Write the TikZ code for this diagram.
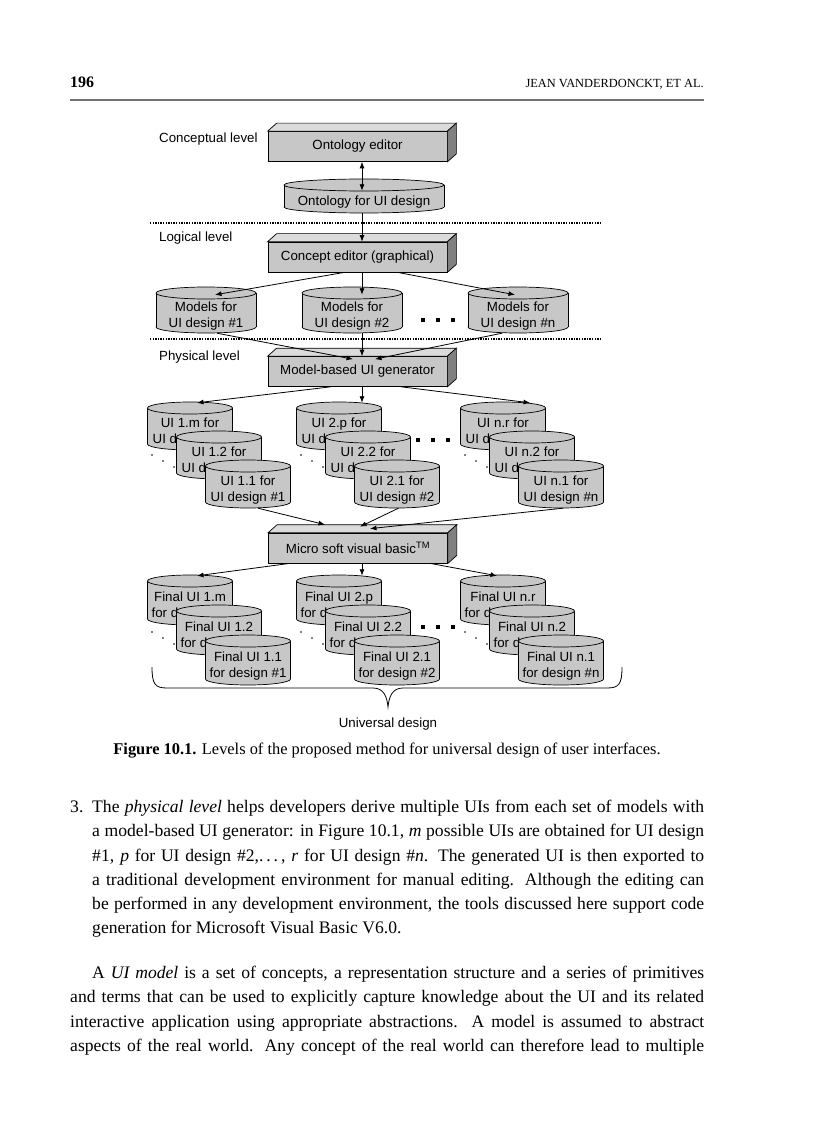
\documentclass[tikz,border=0pt]{standalone}
\usepackage{fontspec}
\setmainfont{Liberation Serif}
\newfontfamily\diafont{Liberation Sans}
\usetikzlibrary{arrows.meta, positioning}

% a drum (data store): name, centre x, centre y, width, height, text
\newcommand{\drum}[6]{%
  \filldraw[drumline] (#2,#3+#5/2-6) ellipse [x radius=#4/2, y radius=6];
  \fill[black!22] (#2-#4/2,#3-#5/2+6) rectangle (#2+#4/2,#3+#5/2-6);
  \draw[drumline] (#2-#4/2,#3-#5/2+6) -- (#2-#4/2,#3+#5/2-6) (#2+#4/2,#3-#5/2+6) -- (#2+#4/2,#3+#5/2-6);
  \filldraw[drumline] (#2,#3-#5/2+6) ellipse [x radius=#4/2, y radius=6];
  \node[drumtext, minimum width=#4, minimum height=#5-12] (#1) at (#2,#3+6) {#6};
}

\begin{document}
\begin{tikzpicture}[x=1pt, y=-1pt,
    slab/.style={rectangle, draw, line width=0.7pt, fill=black!22, minimum width=179pt, minimum height=30pt, inner sep=0pt, font=\diafont\fontsize{13.3}{16}\selectfont},
    drumline/.style={fill=black!22, line width=0.7pt},
    drumtext/.style={inner sep=0pt, align=center, font=\diafont\fontsize{13.3}{16}\selectfont},
    lvl/.style={anchor=base west, inner sep=0pt, font=\diafont\fontsize{13.3}{16}\selectfont},
    flow/.style={-{Latex[length=6.5pt,width=5pt]}, line width=0.8pt},
    sep/.style={dash pattern=on 1.3pt off 1.3pt, line width=1.1pt},
    body/.style={anchor=north west, inner sep=0pt, text width=634pt, align=justify, font=\fontsize{17.6}{24.2}\selectfont}
  ]
  \fill[white] (0,0) rectangle (816,1123);
  \useasboundingbox (0,0) rectangle (816,1123);

  % running head
  \node[anchor=base west, inner sep=0pt, font=\bfseries\fontsize{16}{18}\selectfont] (pgno) at (70,88) {196};
  \node[anchor=base east, inner sep=0pt, font=\fontsize{12.4}{14}\selectfont] (rhead) at (704,88) {JEAN VANDERDONCKT, ET AL.};
  \draw[black!55, line width=1.5pt] (70,100) -- (704,100);

  % level names and separators
  \node[lvl] (lvconc) at (159,142.5) {Conceptual level};
  \node[lvl] (lvlog)  at (159,241.5) {Logical level};
  \node[lvl] (lvphys) at (159,360.5) {Physical level};
  \draw[sep] (150,223) -- (601,223);
  \draw[sep] (150,339) -- (601,339);

  % conceptual and logical level
  \node[slab] (onted) at (357.5,146.5) {Ontology editor};
  \drum{ontdb}{364}{196}{160}{34}{Ontology for UI design}
  \node[slab] (conced) at (357.5,257) {Concept editor (graphical)};
  \foreach \i/\x/\d in {1/206/1, 2/352/2, 3/518/n}{
    \drum{mod\i}{\x}{310}{100}{46}{Models for\\UI design \#\d}
  }
  \foreach \k in {0,1,2}
    \fill (421+15*\k,318) rectangle (425+15*\k,322);

  % physical level
  \node[slab] (gener) at (357.5,371.5) {Model-based UI generator};
  \foreach \i/\x/\nm/\lt in {1/190/1/m, 2/339/2/p, 3/503/n/r}{
    \drum{uic\i}{\x}{426}{85}{48}{UI \nm.\lt\ for\\UI design \#\nm}
    \drum{uib\i}{\x+29}{455}{85}{48}{UI \nm.2 for\\UI design \#\nm}
    \drum{uia\i}{\x+58}{484}{85}{48}{UI \nm.1 for\\UI design \#\nm}
    \foreach \k in {0,1,2}
      \fill (\x-38+11*\k,455+6*\k) circle (0.9pt);
  }
  \foreach \k in {0,1,2}
    \fill (416+15*\k,438) rectangle (420+15*\k,442);

  \node[slab] (msvb) at (358,548) {Micro soft visual basic\textsuperscript{TM}};
  \foreach \i/\x/\nm/\lt in {1/190/1/m, 2/339/2/p, 3/503/n/r}{
    \drum{fic\i}{\x}{600}{85}{50}{Final UI \nm.\lt\\for design \#\nm}
    \drum{fib\i}{\x+29}{630}{85}{50}{Final UI \nm.2\\for design \#\nm}
    \drum{fia\i}{\x+58}{660}{85}{50}{Final UI \nm.1\\for design \#\nm}
    \foreach \k in {0,1,2}
      \fill (\x-38+11*\k,632+6*\k) circle (0.9pt);
  }
  \foreach \k in {0,1,2}
    \fill (421+15*\k,625) rectangle (425+15*\k,629);

  % top and side of the boxes
  \foreach \b in {onted, conced, gener, msvb}{
    \filldraw[fill=black!14, line width=0.7pt] (\b.north west) -- ++(9pt,8pt) -- ([shift={(9pt,8pt)}]\b.north east) -- (\b.north east) -- cycle;
    \filldraw[fill=black!50, line width=0.7pt] (\b.north east) -- ++(9pt,8pt) -- ([shift={(9pt,8pt)}]\b.south east) -- (\b.south east) -- cycle;
  }

  % brace
  \draw[line width=0.8pt] (152,667) .. controls (152,684) and (155,688) .. (167,688) -- (373,688)
    .. controls (384,688) and (387,697) .. (388,707) .. controls (389,697) and (392,688) .. (403,688)
    -- (607,688) .. controls (619,688) and (622,684) .. (622,667);
  \node[anchor=base, inner sep=0pt, font=\diafont\fontsize{13.3}{16}\selectfont] (univ) at (388,727) {Universal design};

  % connectors
  \draw[{Latex[length=6.5pt,width=5pt]}-{Latex[length=6.5pt,width=5pt]}, line width=0.8pt] ([xshift=4.5pt]onted.south) -- ([xshift=-2pt]ontdb.north);
  \draw[flow] ([xshift=-2pt]ontdb.south) -- ([xshift=4.5pt]conced.north);
  \draw[flow] ([xshift=-13pt]conced.south) -- ([xshift=9pt,yshift=4pt]mod1.north);
  \draw[flow] ([xshift=4.5pt]conced.south) -- ([xshift=10pt,yshift=4pt]mod2.north);
  \draw[flow] ([xshift=40pt]conced.south) -- ([xshift=-3pt,yshift=4pt]mod3.north);
  \draw[flow] ([xshift=11pt]mod1.south) -- ([xshift=-4.5pt,yshift=-3pt]gener.north);
  \draw[flow] ([xshift=10pt]mod2.south) -- ([xshift=4.5pt]gener.north);
  \draw[flow] ([xshift=-16pt]mod3.south) -- ([xshift=17.5pt,yshift=-3pt]gener.north);
  \draw[flow] ([xshift=-27pt]gener.south) -- ([xshift=7pt,yshift=11pt]uic1.north);
  \draw[flow] ([xshift=4.5pt]gener.south) -- ([xshift=23pt,yshift=11pt]uic2.north);
  \draw[flow] ([xshift=44pt]gener.south) -- ([xshift=27pt,yshift=11pt]uic3.north);
  \draw[flow] ([xshift=10pt]uia1.south) -- ([xshift=-33pt,yshift=8pt]msvb.north);
  \draw[flow] ([xshift=1.5pt]uia2.south) -- ([xshift=2pt,yshift=6pt]msvb.north);
  \draw[flow] ([xshift=2pt]uia3.south) -- ([xshift=12pt,yshift=4pt]msvb.north);
  \draw[flow] ([xshift=-68pt]msvb.south) -- ([xshift=7pt,yshift=11pt]fic1.north);
  \draw[flow] ([xshift=4pt]msvb.south) -- ([xshift=23pt,yshift=11pt]fic2.north);
  \draw[flow] ([xshift=72pt]msvb.south) -- ([xshift=-6pt,yshift=11pt]fic3.north);

  % caption and text
  \node[anchor=base, inner sep=0pt, font=\fontsize{16.4}{19}\selectfont] (capt) at (387,754) {\textbf{Figure 10.1.} Levels of the proposed method for universal design of user interfaces.};
  \node[body] (item) at (70,800) {\tolerance=9999\noindent\hangindent=22pt\hangafter=1\makebox[22pt][l]{3.}The \textit{physical level} helps developers derive multiple UIs from each set of models with\linebreak
    a model-based UI generator: in Figure 10.1, \textit{m} possible UIs are obtained for UI design\linebreak
    \#1, \textit{p} for UI design \#2,.\,.\,.\,, \textit{r} for UI design \#\textit{n}. The generated UI is then exported to\linebreak
    a traditional development environment for manual editing. Although the editing can\linebreak
    be performed in any development environment, the tools discussed here support code\linebreak
    generation for Microsoft Visual Basic V6.0.\par};
  \node[body] (para) at (70,966) {\tolerance=9999\parfillskip=0pt\noindent\hspace*{22pt}A \textit{UI model} is a set of concepts, a representation structure and a series of primitives\linebreak
    and terms that can be used to explicitly capture knowledge about the UI and its related\linebreak
    interactive application using appropriate abstractions. A model is assumed to abstract\linebreak
    aspects of the real world. Any concept of the real world can therefore lead to multiple\par};
\end{tikzpicture}
\end{document}
